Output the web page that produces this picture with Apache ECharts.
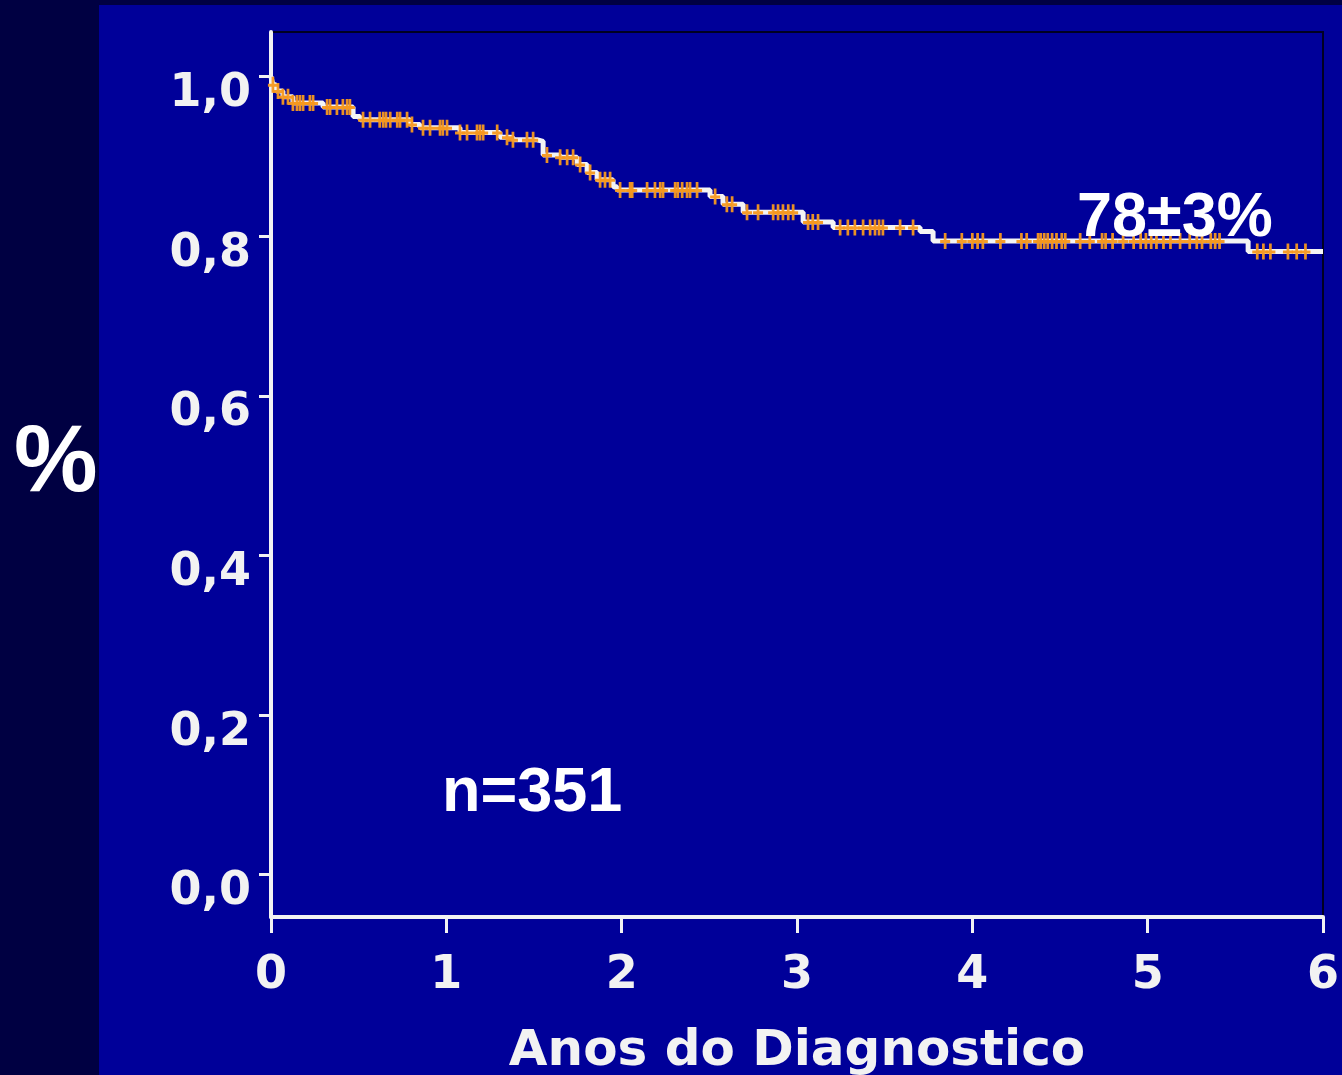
<!DOCTYPE html>
<html>
<head>
<meta charset="utf-8">
<script src="https://cdn.jsdelivr.net/npm/echarts@6/dist/echarts.min.js"></script>
<style>
html,body{margin:0;padding:0;background:#000042;}
#chart{width:1342px;height:1075px;}
</style>
</head>
<body>
<div id="chart"></div>
<script>
// Kaplan-Meier step points (years, survival)
const eventTimes = [0, 0.011, 0.029, 0.068, 0.125, 0.297, 0.468, 0.508, 0.793, 0.850, 1.078, 1.306, 1.380, 1.517, 1.552, 1.649, 1.746, 1.803, 1.860, 1.951, 1.974, 2.504, 2.578, 2.693, 3.035, 3.206, 3.702, 3.776, 5.573, 6.0];
const survival   = [1.000, 0.990, 0.982, 0.975, 0.967, 0.962, 0.950, 0.946, 0.940, 0.936, 0.930, 0.924, 0.921, 0.919, 0.902, 0.899, 0.890, 0.880, 0.871, 0.862, 0.858, 0.850, 0.840, 0.830, 0.818, 0.811, 0.806, 0.794, 0.781, 0.781];
// censored observations (years)
const censorTimes = [0.011, 0.04, 0.068, 0.097, 0.125, 0.148, 0.165, 0.183, 0.222, 0.24, 0.32, 0.337, 0.376, 0.41, 0.434, 0.45, 0.525, 0.565, 0.62, 0.64, 0.656, 0.68, 0.72, 0.736, 0.776, 0.804, 0.867, 0.907, 0.964, 0.98, 1.004, 1.078, 1.118, 1.175, 1.192, 1.21, 1.29, 1.346, 1.38, 1.46, 1.495, 1.574, 1.649, 1.689, 1.723, 1.763, 1.82, 1.877, 1.905, 1.934, 1.991, 2.048, 2.06, 2.145, 2.19, 2.22, 2.236, 2.305, 2.32, 2.345, 2.373, 2.39, 2.43, 2.533, 2.6, 2.63, 2.715, 2.778, 2.864, 2.892, 2.92, 2.95, 2.978, 3.063, 3.09, 3.12, 3.246, 3.29, 3.33, 3.377, 3.417, 3.445, 3.468, 3.49, 3.588, 3.662, 3.845, 3.94, 4.00, 4.03, 4.06, 4.16, 4.28, 4.31, 4.375, 4.39, 4.41, 4.43, 4.455, 4.48, 4.51, 4.53, 4.615, 4.67, 4.74, 4.76, 4.80, 4.86, 4.92, 4.96, 4.99, 5.02, 5.05, 5.09, 5.13, 5.185, 5.24, 5.28, 5.31, 5.36, 5.385, 5.41, 5.625, 5.66, 5.70, 5.80, 5.85, 5.90];
const xTicks = [0, 1, 2, 3, 4, 5, 6];
const yTicks = [0, 0.2, 0.4, 0.6, 0.8, 1.0];
const xTitle = 'Anos do Diagnostico';
const yTitle = '%';
const nLabel = 'n=351';
const finalLabel = '78±3%';

function survAt(t) {
  let s = survival[0];
  for (let i = 0; i < eventTimes.length; i++) {
    if (eventTimes[i] <= t) s = survival[i]; else break;
  }
  return s;
}

const chart = echarts.init(document.getElementById('chart'), null, {renderer: 'canvas'});
const white = '#f2f2f2';
const tickFont = {color: white, fontFamily: 'DejaVu Sans', fontWeight: 'bold', fontSize: 46};

chart.setOption({
  backgroundColor: '#000042',
  animation: false,
  graphic: [
    {type: 'rect', z: -10, silent: true, shape: {x: 99, y: 5, width: 1243, height: 1070}, style: {fill: '#000099'}},
    {type: 'text', left: 14, top: 418, style: {text: yTitle, fill: '#ffffff', font: 'bold 94px "Liberation Sans", Arial, sans-serif'}},
    {type: 'text', left: 442, top: 762, style: {text: nLabel, fill: '#ffffff', font: 'bold 63px "Liberation Sans", Arial, sans-serif'}},
    {type: 'text', left: 1077, top: 187, z: 100, style: {text: finalLabel, fill: '#ffffff', font: 'bold 63px "Liberation Sans", Arial, sans-serif'}}
  ],
  grid: {left: 271, right: 19, top: 32, bottom: 158, outerBoundsMode: 'none', containLabel: false,
    show: true, borderColor: '#000022', borderWidth: 2, backgroundColor: 'transparent'},
  xAxis: {
    type: 'value', min: 0, max: 6, interval: 1,
    name: xTitle, nameLocation: 'middle', nameGap: 110,
    nameTextStyle: {color: white, fontFamily: 'DejaVu Sans', fontWeight: 'bold', fontSize: 50},
    axisLine: {show: true, onZero: false, lineStyle: {color: white, width: 4}},
    axisTick: {show: true, length: 16, lineStyle: {color: white, width: 3}},
    axisLabel: Object.assign({margin: 36, formatter: v => String(v)}, tickFont),
    splitLine: {show: false}
  },
  yAxis: {
    type: 'value', min: -0.053, max: 1.056,
    axisLine: {show: true, onZero: false, lineStyle: {color: white, width: 4}},
    axisTick: {show: true, length: 12, customValues: yTicks, lineStyle: {color: white, width: 3}},
    axisLabel: Object.assign({margin: 20, customValues: yTicks, verticalAlign: 'top', lineHeight: 35,
      formatter: v => v.toFixed(1).replace('.', ',')}, tickFont),
    splitLine: {show: false}
  },
  series: [
    {
      type: 'line', step: 'end', symbol: 'none',
      data: eventTimes.map((t, i) => [t, survival[i]]),
      lineStyle: {color: '#f4f4f4', width: 5},
      z: 3
    },
    {
      type: 'scatter',
      data: censorTimes.map(t => [t, survAt(t)]),
      symbol: 'path://M4,0h3v16h-3zM0,7h11v3h-11z',
      symbolSize: [10, 16],
      itemStyle: {color: '#f5981f', opacity: 0.95},
      z: 4
    }
  ]
});
</script>
</body>
</html>
